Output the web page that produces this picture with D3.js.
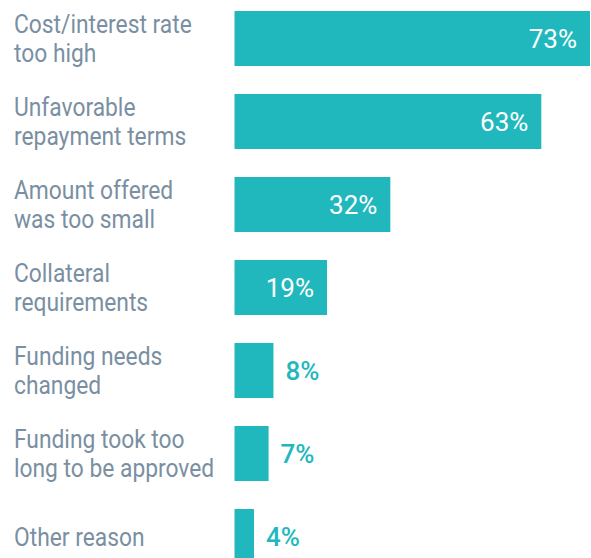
<!DOCTYPE html>
<html>
<head>
<meta charset="utf-8">
<script src="https://cdn.jsdelivr.net/npm/d3@7"></script>
<style>
  html, body { margin: 0; padding: 0; background: #ffffff; }
  svg { display: block; }
</style>
</head>
<body>
<svg id="chart" width="591" height="558"></svg>
<script>
const categories = [
  ["Cost/interest rate", "too high"],
  ["Unfavorable", "repayment terms"],
  ["Amount offered", "was too small"],
  ["Collateral", "requirements"],
  ["Funding needs", "changed"],
  ["Funding took too", "long to be approved"],
  ["Other reason"]
];
const values = [73, 63, 32, 19, 8, 7, 4];
const valueLabels = ["73%", "63%", "32%", "19%", "8%", "7%", "4%"];

const barColor = "#21b8bd";
const labelColor = "#7a8fa2";

const svg = d3.select("#chart");

const x = d3.scaleLinear().domain([0, 73]).range([234.5, 590]);
// step 83px, bar height 55px, first bar top at 11px
const yb = d3.scaleBand()
  .domain(d3.range(values.length))
  .range([11, 11 + 83 * 6 + 55])
  .paddingInner(28 / 83)
  .paddingOuter(0);

const rows = svg.selectAll("g.row").data(values).enter().append("g").attr("class", "row");

rows.append("rect")
  .attr("x", x(0))
  .attr("y", (d, i) => yb(i))
  .attr("width", d => x(d) - x(0))
  .attr("height", yb.bandwidth())
  .attr("fill", barColor);

const labelScale = 0.877;
const lineH = 29;
rows.append("text")
  .attr("transform", (d, i) => {
    const c = yb(i) + yb.bandwidth() / 2;
    const n = categories[i].length;
    const base = c + 9.3 - (n - 1) * lineH / 2;
    return `translate(14,${base}) scale(${labelScale},1)`;
  })
  .attr("font-family", "Roboto, sans-serif")
  .attr("font-size", 26)
  .attr("fill", labelColor)
  .selectAll("tspan")
  .data((d, i) => categories[i])
  .enter().append("tspan")
  .attr("x", 0)
  .attr("dy", (d, j) => j === 0 ? 0 : lineH)
  .text(d => d);

rows.append("text")
  .attr("x", d => d >= 15 ? x(d) - 13 : x(d) + 12)
  .attr("y", (d, i) => yb(i) + yb.bandwidth() / 2 + 9.5)
  .attr("text-anchor", d => d >= 15 ? "end" : "start")
  .attr("font-family", "Roboto, sans-serif")
  .attr("font-size", 26)
  .attr("font-weight", d => d >= 15 ? 400 : 500)
  .attr("fill", d => d >= 15 ? "#ffffff" : barColor)
  .text((d, i) => valueLabels[i]);
</script>
</body>
</html>
